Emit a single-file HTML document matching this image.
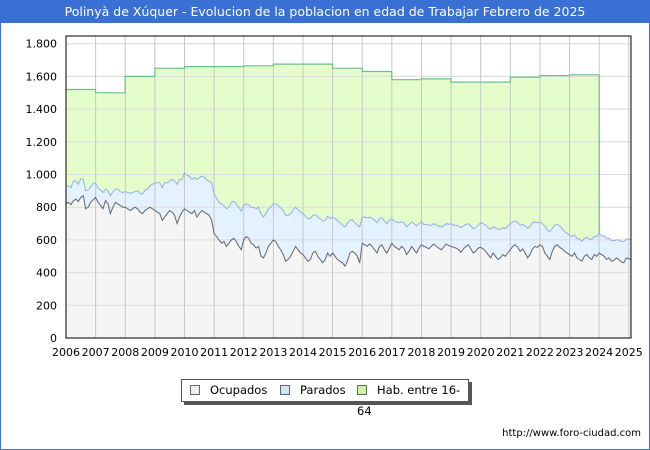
<!DOCTYPE html>
<html><head><meta charset="utf-8">
<style>
body{margin:0;background:#fff;font-family:"DejaVu Sans","Liberation Sans",sans-serif;}
#wrap{position:relative;width:648px;height:448px;border:1px solid #3a70d4;overflow:hidden;background:#fff;}
#title{position:absolute;left:0;top:0;width:648px;height:22px;background:#3a70d4;color:#fff;font-size:12.5px;line-height:22px;text-align:center;}
#legend{position:absolute;left:180px;top:378px;width:286px;height:21px;border:1px solid #555;background:#fff;box-shadow:3px 3px 0 #555;font-size:11.5px;line-height:21px;}
.li{position:absolute;top:0;}
.sw{display:inline-block;width:8px;height:8px;border:1px solid #666;margin-right:10px;vertical-align:-1px;}
#url{position:absolute;right:8px;top:427px;font-size:10px;color:#000;}
</style></head><body>
<div id="wrap">
<div id="title">Polinyà de Xúquer - Evolucion de la poblacion en edad de Trabajar Febrero de 2025</div>
<svg id="chart" width="648" height="448" style="position:absolute;left:0;top:0"></svg>
<div id="legend">
<span class="li" style="left:8px"><span class="sw" style="background:#eee"></span>Ocupados</span>
<span class="li" style="left:98px"><span class="sw" style="background:#cce4ff"></span>Parados</span>
<span class="li" style="left:175px"><span class="sw" style="background:#ccf5a0"></span>Hab. entre 16-64</span>
</div>
<div id="url">http://www.foro-ciudad.com</div>
</div>
<script>
const years=[2006,2007,2008,2009,2010,2011,2012,2013,2014,2015,2016,2017,2018,2019,2020,2021,2022,2023,2024,2025];
const yTicks=[0,200,400,600,800,1000,1200,1400,1600,1800];
const yTickLabels=["0","200","400","600","800","1.000","1.200","1.400","1.600","1.800"];
const hab=[1520,1500,1600,1650,1660,1660,1665,1675,1675,1650,1630,1580,1585,1565,1565,1595,1605,1610];
const ocupados=[
820,830,815,840,850,835,860,870,790,800,830,845,
860,830,810,790,840,820,760,800,830,820,810,800,
800,790,780,790,800,790,770,760,780,790,800,790,
780,770,760,720,740,760,780,770,750,700,740,770,
790,780,770,760,780,740,760,780,770,760,750,720,
640,620,600,580,590,560,580,600,610,590,560,540,
600,620,610,580,570,550,560,500,490,520,560,580,
600,590,560,540,510,470,480,500,530,560,540,520,
510,490,470,480,520,530,500,480,460,480,520,500,
520,500,480,470,460,440,470,520,530,520,500,460,
580,570,560,575,560,540,520,560,570,540,520,550,
580,560,550,540,560,545,510,530,560,540,520,550,
570,560,555,545,560,575,560,550,540,555,575,565,
560,555,550,540,525,545,560,570,545,520,530,550,
555,545,530,510,490,520,500,480,490,510,500,520,
540,560,570,555,530,545,520,490,510,545,560,555,
570,560,520,500,480,530,560,570,555,545,530,520,
510,500,520,490,480,470,500,510,490,480,510,500,
520,510,500,480,490,470,475,490,480,465,460,490,
485,480];
const parados=[
110,100,105,120,110,105,115,100,110,105,95,100,
90,85,95,100,70,80,110,95,80,90,85,90,
95,100,105,100,95,110,115,120,125,120,130,150,
170,180,190,200,210,190,180,200,210,240,230,200,
220,215,220,210,200,230,220,210,215,205,210,230,
240,235,230,240,220,230,220,230,225,230,240,235,
210,200,205,220,230,240,240,260,250,240,230,220,
220,230,250,255,270,280,270,260,250,240,245,250,
250,255,260,250,230,225,240,250,255,240,225,230,
220,230,240,235,230,240,230,200,195,185,190,220,
160,170,175,165,170,180,185,170,165,175,180,170,
150,155,160,165,150,160,170,165,150,160,165,150,
140,135,140,145,130,125,130,135,140,130,125,130,
140,135,140,145,150,140,135,130,140,150,145,140,
150,155,160,165,175,160,175,185,175,165,170,165,
160,150,145,150,160,150,165,180,170,160,150,150,
140,140,165,160,170,140,130,125,130,125,120,120,
120,120,110,120,125,120,110,105,115,125,110,120,
120,115,125,130,120,125,120,110,120,125,130,115,
120,125];
const svg=document.getElementById('chart');
const NS='http://www.w3.org/2000/svg';
const X0=65,X1=630,Y0=337,YT=35;
function xs(t){return X0+(t-2006)*29.62;}
function ys(v){return Y0-v*0.1635;}
function mk(tag,attrs){const e=document.createElementNS(NS,tag);for(const k in attrs)e.setAttribute(k,attrs[k]);svg.appendChild(e);return e;}
// grid
yTicks.forEach((v,i)=>{
 const l=mk('line',{x1:X0,x2:X1,y1:ys(v),y2:ys(v),stroke:'#ddd','stroke-width':1});
 
 
 const t=mk('text',{x:56,y:ys(v)+4,'text-anchor':'end','font-size':11,fill:'#000','font-family':'DejaVu Sans, Liberation Sans, sans-serif'});
 t.textContent=yTickLabels[i];
 
 
});
// areas
const n=ocupados.length;
const tm=i=>2006+i/12;
let habPts=[];
hab.forEach((v,i)=>{habPts.push([xs(years[i]),ys(v)]);habPts.push([xs(years[i]+1),ys(v)]);});
const endX=xs(2024);
let topPts=[];for(let i=0;i<n;i++)topPts.push([xs(tm(i)),ys(ocupados[i]+parados[i])]);
let ocPts=[];for(let i=0;i<n;i++)ocPts.push([xs(tm(i)),ys(ocupados[i])]);
const P=a=>a.map(p=>p[0].toFixed(1)+','+p[1].toFixed(1)).join(' ');
// green: hab down to blue top
const iEnd=12*18;
let gpoly=habPts.concat(topPts.slice(0,iEnd+1).reverse());
const g=mk('polygon',{points:P(gpoly),fill:'#e5fdcb',stroke:'none'});


const bl=mk('polygon',{points:P(topPts.concat(ocPts.slice().reverse())),fill:'#e4f1ff'});


const gr=mk('polygon',{points:P(ocPts.concat([[xs(tm(n-1)),Y0],[X0,Y0]])),fill:'#f5f5f5'});


// grid over areas (light)
yTicks.forEach(v=>{const l=mk('line',{x1:X0,x2:X1,y1:ys(v),y2:ys(v),stroke:'#ddd','stroke-width':1});});
years.forEach(y=>{
 const l=mk('line',{x1:xs(y),x2:xs(y),y1:YT,y2:Y0,stroke:'#c8c8c8','stroke-width':1});
 
 
 const t=mk('text',{x:xs(y),y:355,'text-anchor':'middle','font-size':11,fill:'#000','font-family':'DejaVu Sans, Liberation Sans, sans-serif'});
 t.textContent=String(y);
 
 
});
const hl=mk('polyline',{points:P(habPts.concat([[endX,topPts[iEnd][1]]])),fill:'none',stroke:'#6dbf8f','stroke-width':1.2});


const tl=mk('polyline',{points:P(topPts),fill:'none',stroke:'#8fb0f0','stroke-width':1});


const ol=mk('polyline',{points:P(ocPts),fill:'none',stroke:'#666','stroke-width':1});


const fr=mk('rect',{x:X0,y:YT,width:X1-X0,height:Y0-YT,fill:'none',stroke:'#000','stroke-width':1});


</script>
</body></html>
